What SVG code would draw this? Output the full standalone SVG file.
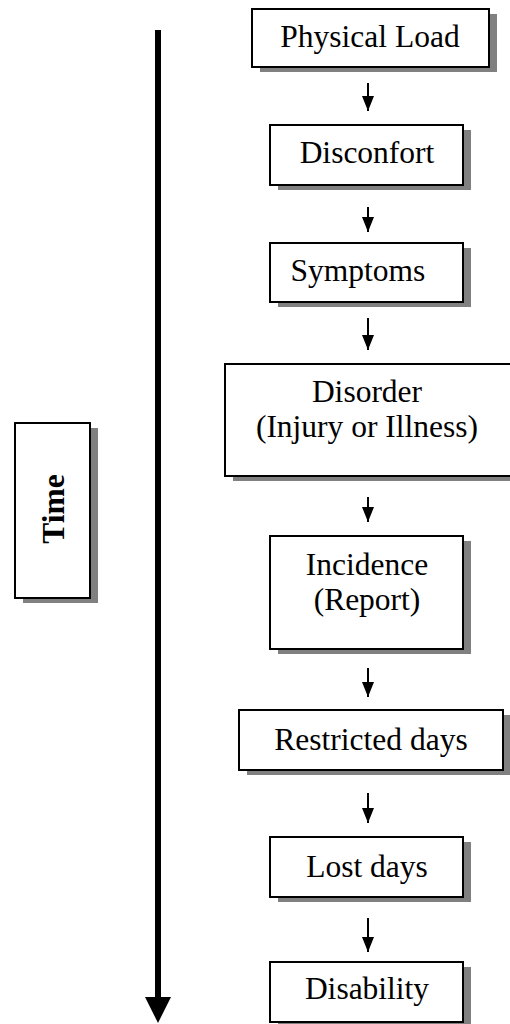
<svg xmlns="http://www.w3.org/2000/svg" width="510" height="1024" viewBox="0 0 510 1024">
<defs>
<style>
.box{fill:#fff;stroke:#000;stroke-width:2}
.sh{fill:#808080}
.t{font-family:"Liberation Serif","Times New Roman",serif;font-size:31.5px;fill:#000;text-anchor:middle}
.tb{font-weight:bold}
.c{stroke:#000;stroke-width:2;fill:none}
</style>
<marker id="ah" viewBox="0 0 15 12" refX="15" refY="6" markerWidth="15" markerHeight="12" markerUnits="userSpaceOnUse" orient="auto">
<path d="M0,0 L15,6 L0,12 Z" fill="#000"/>
</marker>
</defs>
<rect width="510" height="1024" fill="#fff"/>

<g id="time">
<rect class="sh" x="23" y="428" width="75" height="175"/>
<rect class="box" x="15" y="423" width="75" height="175"/>
<text class="t tb" x="64" y="509" transform="rotate(-90 64 509)">Time</text>
</g>

<g id="time-arrow">
<line x1="158" y1="30" x2="158" y2="999" stroke="#000" stroke-width="6"/>
<polygon points="145,997 171,997 158,1023" fill="#000"/>
</g>

<g id="n1">
<rect class="sh" x="260" y="14" width="237" height="58"/>
<rect class="box" x="252" y="9" width="237" height="58"/>
<text class="t" x="370" y="47">Physical Load</text>
</g>
<g id="n2">
<rect class="sh" x="278" y="130" width="193" height="60"/>
<rect class="box" x="270" y="125" width="193" height="60"/>
<text class="t" x="367" y="163">Disconfort</text>
</g>
<g id="n3">
<rect class="sh" x="278" y="248" width="193" height="59"/>
<rect class="box" x="270" y="243" width="193" height="59"/>
<text class="t" x="358" y="281">Symptoms</text>
</g>
<g id="n4">
<rect class="sh" x="233" y="369" width="290" height="112"/>
<rect class="box" x="225" y="364" width="290" height="112"/>
<text class="t" x="367" y="402">Disorder</text>
<text class="t" x="367" y="437">(Injury or Illness)</text>
</g>
<g id="n5">
<rect class="sh" x="278" y="541" width="193" height="113"/>
<rect class="box" x="270" y="536" width="193" height="113"/>
<text class="t" x="367" y="575">Incidence</text>
<text class="t" x="367" y="610">(Report)</text>
</g>
<g id="n6">
<rect class="sh" x="247" y="715" width="264" height="60"/>
<rect class="box" x="239" y="710" width="264" height="60"/>
<text class="t" x="371" y="750">Restricted days</text>
</g>
<g id="n7">
<rect class="sh" x="278" y="842" width="193" height="60"/>
<rect class="box" x="270" y="837" width="193" height="60"/>
<text class="t" x="367" y="877">Lost days</text>
</g>
<g id="n8">
<rect class="sh" x="278" y="967" width="193" height="60"/>
<rect class="box" x="270" y="962" width="193" height="60"/>
<text class="t" x="367" y="999">Disability</text>
</g>

<g id="connectors">
<line class="c" x1="368" y1="83" x2="368" y2="111" marker-end="url(#ah)"/>
<line class="c" x1="368" y1="207" x2="368" y2="232" marker-end="url(#ah)"/>
<line class="c" x1="368" y1="318" x2="368" y2="350" marker-end="url(#ah)"/>
<line class="c" x1="368" y1="497" x2="368" y2="522" marker-end="url(#ah)"/>
<line class="c" x1="368" y1="668" x2="368" y2="697" marker-end="url(#ah)"/>
<line class="c" x1="368" y1="793" x2="368" y2="823" marker-end="url(#ah)"/>
<line class="c" x1="368" y1="918" x2="368" y2="952" marker-end="url(#ah)"/>
</g>
</svg>
